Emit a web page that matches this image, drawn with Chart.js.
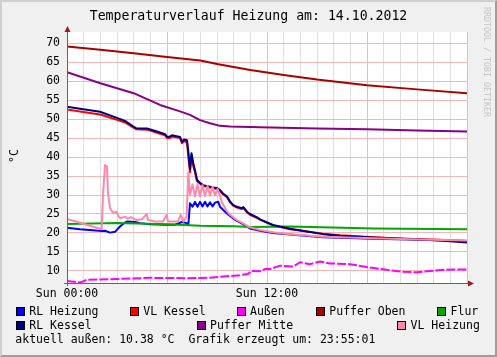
<!DOCTYPE html>
<html><head><meta charset="utf-8">
<script src="https://cdn.jsdelivr.net/npm/chart.js@4/dist/chart.umd.min.js"></script>
<style>
html,body{margin:0;padding:0;background:#f0f0f0;}
#wrap{position:relative;width:497px;height:357px;overflow:hidden;background:#f0f0f0;}
#frame{position:absolute;left:0;top:0;width:497px;height:357px;box-sizing:border-box;border-top:2px solid #cfcfcf;border-left:2px solid #cfcfcf;border-right:2px solid #9e9e9e;border-bottom:2px solid #9e9e9e;z-index:0;}
#c{position:absolute;left:0;top:0;z-index:1;}
.t{position:absolute;font-family:'DejaVu Sans Mono',monospace;white-space:pre;color:#000;z-index:2;}
.lg{font-size:11.5px;line-height:14px;}
.box{position:absolute;width:9px;height:9px;box-sizing:border-box;border:1px solid #000;z-index:2;}
</style></head>
<body>
<div id="wrap">
<div id="frame"></div>
<canvas id="c" width="497" height="357"></canvas>
<div class="t" style="left:0;top:8.4px;width:497px;text-align:center;font-size:13.2px;line-height:16px;">Temperaturverlauf Heizung am: 14.10.2012</div>
<div class="t lg" style="left:0;top:149px;width:27px;text-align:center;transform-origin:13.5px 7px;transform:rotate(-90deg);">°C</div>
<div class="t" style="left:426.7px;top:57px;width:120px;text-align:center;font-size:8.3px;line-height:10px;color:#c4c4c4;transform:rotate(90deg);">RRDTOOL / TOBI OETIKER</div>
<div id="legend"></div>
<div class="t lg" style="left:15.3px;top:332.3px;">aktuell außen: 10.38 °C  Grafik erzeugt um: 23:55:01</div>
</div>
<script>
// ---- data (x = hours since Sun 00:00) ----
const seriesNames = ['RL Heizung','VL Kessel','Außen','Puffer Oben','Flur','RL Kessel','Puffer Mitte','VL Heizung'];
const seriesColors = ['#0000ff','#ff0000','#ff00ff','#aa0000','#00a800','#000080','#880088','#ff88aa'];

const rlHeizungT = [0,0.78,2.08,2.28,2.58,2.88,3.18,3.42,3.6,4.08,4.38,4.98,5.88,6.48,6.9,7.18,7.28,7.38,7.53,7.68,7.83,7.98,8.13,8.28,8.43,8.58,8.73,8.88,9.08,9.18,9.58,9.78,10.18,10.38,10.98,11.58,12.36,13.38,15.36,18.36,21.18,24];
const rlHeizung  = [21.4,21.0,20.5,20.6,20.1,20.3,21.7,22.6,23.0,22.9,22.6,22.3,22.2,22.2,22.9,22.6,22.1,27.8,26.9,28.2,26.9,28.2,27.0,28.2,27.0,28.1,27.0,28.0,28.2,26.9,25.2,24.5,23.2,22.8,21.2,20.6,20.0,19.6,18.9,18.5,18.2,17.9];

const kesselT = [0,0.78,1.98,3.0,3.48,3.96,4.14,4.8,5.4,5.88,6.0,6.18,6.3,6.78,6.9,7.02,7.2,7.29,7.38,7.47,7.58,7.68,7.8,7.98,8.16,8.58,9.0,9.18,9.36,9.6,9.78,9.96,10.2,10.48,10.58,10.8,10.98,11.38,11.58,12.36,13.38,14.4,15.36,16.38,18.36,20.4,22.38,24];
const vlKessel = [52.5,52.0,51.2,49.8,49.1,47.8,47.3,47.2,46.4,45.7,45.0,45.0,45.4,45.0,43.6,44.2,43.8,39.5,36.0,40.2,37.5,36.0,33.6,33.0,32.4,32.0,31.6,31.1,30.2,29.4,28.1,27.2,26.7,26.3,26.6,25.4,24.8,24.0,23.5,22.0,21.0,20.4,19.8,19.4,18.9,18.5,18.2,17.9];
const rlKessel = [53.2,52.7,51.9,50.3,49.5,48.1,47.6,47.5,46.7,46.0,45.3,45.4,45.7,45.3,44.0,44.6,44.4,41.0,36.8,41.0,38.3,36.5,34.0,33.2,32.6,32.2,31.8,31.3,30.4,29.6,28.3,27.4,26.9,26.5,26.8,25.6,25.0,24.2,23.6,22.1,21.1,20.4,19.7,19.3,18.8,18.4,18.0,17.5];

const aussenT = [0,0.78,1.0,1.18,2.98,4.98,7.18,8.58,10.38,10.86,11.08,11.58,11.88,12.18,12.78,13.58,13.98,14.58,15.18,15.78,16.98,18.18,19.18,20.18,20.98,21.78,22.78,24];
const aussen  = [7.4,7.0,7.3,7.7,7.9,8.2,8.1,8.25,8.9,9.2,10.0,9.9,10.5,10.5,11.4,11.2,12.3,11.8,12.5,12.0,11.8,10.9,10.3,9.8,9.65,10.0,10.35,10.38];

const pufferObenT = [0,2,4,6,8,9,10,11,13,15,18,21,24];
const pufferOben  = [69.1,68.2,67.3,66.3,65.4,64.5,63.7,62.9,61.6,60.4,58.9,57.8,56.8];

const flurT = [0,3,6,8,10,11,13.4,18.4,24];
const flur  = [22.4,22.6,22.3,21.9,21.8,21.6,21.7,21.2,21.0];

const pufferMitteT = [0,2,4,5.58,6.78,7.38,7.98,8.58,9.18,9.78,11.58,15,18,21,24];
const pufferMitte  = [62.3,59.4,56.8,53.7,52.0,51.1,49.7,48.9,48.2,48.0,47.8,47.5,47.3,47.0,46.7];

const vlHeizungT = [0,0.78,2.08,2.16,2.28,2.4,2.46,2.58,2.76,2.98,3.06,3.18,3.48,3.66,3.84,4.18,4.5,4.78,4.86,5.28,5.76,5.98,6.06,6.66,6.82,6.98,7.18,7.28,7.38,7.53,7.68,7.83,7.98,8.13,8.28,8.43,8.58,8.73,8.88,9.03,9.18,9.3,9.58,9.78,10.18,10.38,10.98,11.58,12.36,13.38,15.36,18.36,21.18,24];
const vlHeizung  = [23.7,22.7,21.0,30.0,37.9,37.5,30.5,26.6,25.3,25.6,24.6,23.9,24.3,23.8,24.2,23.4,23.6,25.0,23.4,23.0,23.0,24.8,23.0,23.0,24.8,23.0,24.3,36.0,30.0,32.8,29.6,32.8,29.6,32.6,29.7,32.4,29.8,32.2,29.9,31.6,29.8,28.0,25.8,24.8,23.4,23.0,21.5,20.8,20.2,19.7,19.0,18.6,18.3,18.0];

const yTickValues = [10,15,20,25,30,35,40,45,50,55,60,65,70];
const xLabelHours = [0,12];
const xLabels = ['Sun 00:00','Sun 12:00'];

// ---- build ----
const seriesT = [rlHeizungT,kesselT,aussenT,pufferObenT,flurT,kesselT,pufferMitteT,vlHeizungT];
const seriesV = [rlHeizung,vlKessel,aussen,pufferOben,flur,rlKessel,pufferMitte,vlHeizung];

const datasets = seriesNames.map((name,i)=>({
  label:name,
  data: seriesT[i].map((t,j)=>({x:t,y:seriesV[i][j]})),
  borderColor: seriesColors[i],
  backgroundColor: seriesColors[i],
  borderWidth: 2,
  pointRadius: 0,
  tension: 0,
  fill:false,
  borderJoinStyle:'round',
  borderDash: name==='Außen' ? [9,2] : [],
  order: seriesNames.length - i
}));

// legend (HTML)
const legendPos = [[16,307],[130,307],[236.7,307],[316,307],[437.3,307],[16,321],[196.7,321],[397.3,321]];
const lg = document.getElementById('legend');
seriesNames.forEach((n,i)=>{
  const [x,y] = legendPos[i];
  const b = document.createElement('div'); b.className='box';
  b.style.left=x+'px'; b.style.top=y+'px'; b.style.background=seriesColors[i];
  lg.appendChild(b);
  const t = document.createElement('div'); t.className='t lg';
  t.style.left=(x+13.3)+'px'; t.style.top=(y-2.7)+'px'; t.textContent=n;
  lg.appendChild(t);
});

const bgPlugin = {
  id:'bg',
  beforeDraw(chart){
    const {ctx,chartArea:a} = chart;
    ctx.save(); ctx.fillStyle='#ffffff';
    ctx.fillRect(a.left,a.top,a.right-a.left,a.bottom-a.top);
    ctx.restore();
  },
  afterDraw(chart){
    const {ctx,chartArea:a} = chart;
    ctx.save();
    ctx.strokeStyle='#8e5252'; ctx.lineWidth=1;
    ctx.beginPath();
    ctx.moveTo(a.left+0.5, a.bottom+3); ctx.lineTo(a.left+0.5, a.top-4);
    ctx.moveTo(a.left-3, a.bottom+0.5); ctx.lineTo(a.right+4, a.bottom+0.5);
    ctx.stroke();
    ctx.fillStyle='#9c1c1c';
    ctx.beginPath();
    ctx.moveTo(a.left-2.5,a.top); ctx.lineTo(a.left+3.5,a.top); ctx.lineTo(a.left+0.5,a.top-6); ctx.closePath(); ctx.fill();
    ctx.beginPath();
    ctx.moveTo(a.right+1,a.bottom-2.5); ctx.lineTo(a.right+1,a.bottom+3.5); ctx.lineTo(a.right+7,a.bottom+0.5); ctx.closePath(); ctx.fill();
    ctx.restore();
  }
};

const tickFont = {family:"'DejaVu Sans Mono', monospace", size:11.5};
new Chart(document.getElementById('c'), {
  type:'line',
  data:{datasets},
  options:{
    responsive:false, animation:false, devicePixelRatio:1,
    layout:{padding:{top:32,right:30,bottom:0,left:0}},
    plugins:{legend:{display:false},tooltip:{enabled:false},title:{display:false}},
    scales:{
      x:{
        type:'linear', min:0, max:24,
        afterFit(s){ s.height = 74; },
        border:{display:false},
        grid:{drawTicks:false, color:(c)=> (c.tick && c.tick.value % 6 === 0) ? '#f4b6b6' : '#dedede'},
        ticks:{stepSize:1, autoSkip:false, maxRotation:0, padding:4, color:'#000', font:tickFont,
          callback:(v)=>{ const k = xLabelHours.indexOf(v); return k>=0 ? xLabels[k] : ''; }}
      },
      y:{
        type:'linear', min:6.84, max:72.9,
        afterFit(s){ s.width = 67; },
        afterBuildTicks(s){ s.ticks = yTickValues.map(v=>({value:v})); },
        border:{display:false},
        grid:{drawTicks:false, color:'#f4b6b6'},
        ticks:{padding:7, color:'#000', font:tickFont, callback:(v)=>String(v)}
      }
    }
  },
  plugins:[bgPlugin]
});
</script>
</body></html>
